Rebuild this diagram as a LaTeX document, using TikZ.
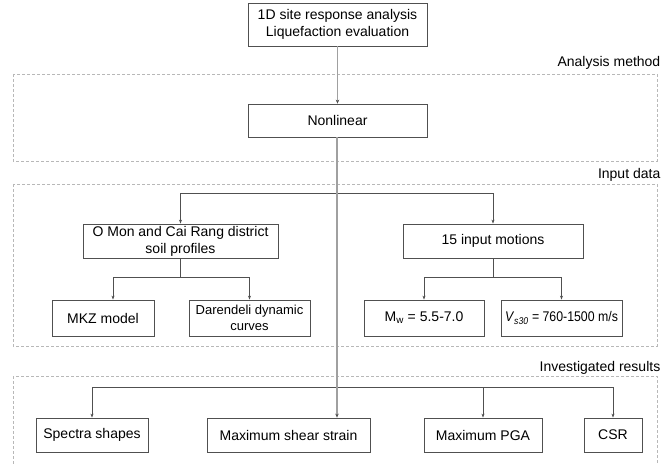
\documentclass[tikz,border=0pt]{standalone}
\usepackage{fontspec}
\usepackage{graphicx}
\setmainfont{Liberation Sans}
\usetikzlibrary{arrows.meta,calc}
\definecolor{boxline}{HTML}{505050}
\definecolor{dashc}{HTML}{B8B8B8}
\definecolor{mainc}{HTML}{A0A0A0}
\begin{document}
\begin{tikzpicture}[x=1pt,y=-1pt,
  font=\fontsize{14}{17}\selectfont,
  box/.style={draw=boxline, line width=0.8pt, fill=white, inner sep=0pt, align=center},
  grp/.style={draw=dashc, line width=0.8pt, dash pattern=on 3pt off 2pt},
  grplabel/.style={anchor=east, inner sep=0pt},
  conn/.style={draw=boxline, line width=0.8pt, -{Stealth[length=4pt,width=3pt]}},
  link/.style={draw=boxline, line width=0.8pt},
  mainln/.style={draw=mainc, line width=1.8pt, -{Stealth[length=4pt,width=3.5pt,color=boxline]}},
]
\useasboundingbox (0,0) rectangle (661,465);
% group frames
\draw[grp] (13,74) rectangle (657,161);
\draw[grp] (13,184) rectangle (657,346);
\draw[grp] (13,376) rectangle (657,480);
\node[grplabel] (lab1) at (660.5,63) {Analysis method};
\node[grplabel] (lab2) at (660.5,175) {Input data};
\node[grplabel] (lab3) at (660.5,368) {Investigated results};
% nodes
\node[box, minimum width=179pt, minimum height=43pt] (top) at (337.5,24.5) {1D site response analysis\\Liquefaction evaluation};
\node[box, minimum width=179pt, minimum height=33pt] (nonlin) at (337.5,120.5) {Nonlinear};
\node[box, minimum width=195pt, minimum height=34pt] (omon) at (180.5,241) {O Mon and Cai Rang district\\soil profiles};
\node[box, minimum width=180pt, minimum height=34pt] (inp) at (493,241) {15 input motions};
\node[box, minimum width=102pt, minimum height=36pt] (mkz) at (103,318) {MKZ model};
\node[box, minimum width=121pt, minimum height=36pt, font=\fontsize{13}{16}\selectfont] (dar) at (249.5,318) {Darendeli dynamic\\curves};
\node[box, minimum width=120pt, minimum height=36pt] (mw) at (424,318) {M\textsubscript{w} = 5.5-7.0};
\node[box, minimum width=121pt, minimum height=36pt] (vs) at (561.5,318) {\scalebox{0.88}[1]{\textit{V}\textsubscript{\textit{s30}} = 760-1500 m/s}};
\node[box, minimum width=112pt, minimum height=34pt] (spec) at (92,435) {Spectra shapes};
\node[box, minimum width=163pt, minimum height=34pt] (mss) at (288.5,435) {Maximum shear strain};
\node[box, minimum width=118pt, minimum height=34pt] (pga) at (483,435) {Maximum PGA};
\node[box, minimum width=58pt, minimum height=34pt] (csr) at (613,435) {CSR};
% branch points
\coordinate (b1) at (337,193);
\coordinate (j1) at (180.5,277);
\coordinate (j2) at (493,277);
\coordinate (b3) at (337,387);
% connectors
\draw[conn] (b1) -| (omon.north);
\draw[conn] (b1) -| (inp.north);
\draw[link] (omon.south) -- (j1);
\draw[conn] (j1) -| ([xshift=10pt]mkz.north);
\draw[conn] (j1) -| (dar.north);
\draw[link] (inp.south) -- (j2);
\draw[conn] (j2) -| (mw.north);
\draw[conn] (j2) -| (vs.north);
\draw[conn] (b3) -| (spec.north);
\draw[conn] (b3) -| (pga.north);
\draw[conn] (b3) -| (csr.north);
% main spine
\draw[mainln] (top.south) -- (nonlin.north);
\draw[mainln] ([xshift=-0.5pt]nonlin.south) -- ([xshift=-0.5pt]nonlin.south |- mss.north);
\end{tikzpicture}
\end{document}
